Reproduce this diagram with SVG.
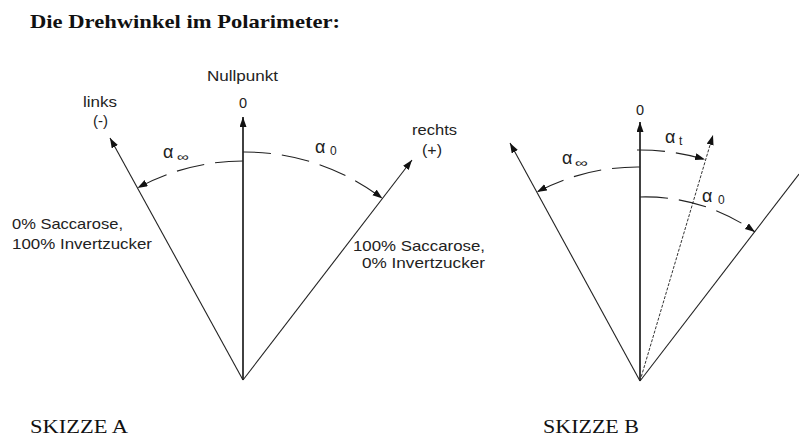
<svg xmlns="http://www.w3.org/2000/svg" width="799" height="436" viewBox="0 0 799 436">
<defs>
<marker id="ah" markerUnits="userSpaceOnUse" markerWidth="11" markerHeight="8" refX="10" refY="3.5" orient="auto">
<path d="M0,0 L10,3.5 L0,7 z" fill="#111"/>
</marker>
<style>
.ln{stroke:#222;stroke-width:1.1;fill:none}
.ax{stroke:#111;stroke-width:1.6;fill:none}
.arc{stroke:#222;stroke-width:1.1;fill:none;stroke-dasharray:28 11}
.dot{stroke:#333;stroke-width:1;fill:none;stroke-dasharray:3 1.5}
.t{font-family:"Liberation Sans",Arial,sans-serif;font-size:14.5px;fill:#222}
.g{font-family:"Liberation Sans",Arial,sans-serif;font-size:18px;fill:#222}
.s{font-family:"Liberation Sans",Arial,sans-serif;font-size:12px;fill:#222}
.sf{font-family:"Liberation Serif","Times New Roman",serif;fill:#111}
</style>
</defs>
<rect width="799" height="436" fill="#fff"/>
<text class="sf" x="30" y="28" font-size="19" font-weight="bold" textLength="310" lengthAdjust="spacingAndGlyphs">Die Drehwinkel im Polarimeter:</text>

<g id="connectors">
<!-- Skizze A -->
<path class="ax" d="M243,380 L243,117" marker-end="url(#ah)"/>
<path class="ln" d="M243,380 L110,138" marker-end="url(#ah)"/>
<path class="ln" d="M243,380 L412,160" marker-end="url(#ah)"/>
<path class="arc" d="M243,161 A219,219 0 0,0 137.5,188" marker-end="url(#ah)"/>
<path class="arc" d="M243,152 A228,228 0 0,1 382.5,198.5" marker-end="url(#ah)"/>
<!-- Skizze B -->
<path class="ax" d="M640,381 L640,122" marker-end="url(#ah)"/>
<path class="ln" d="M640,381 L510,143" marker-end="url(#ah)"/>
<path class="dot" d="M640,381 L713,135" marker-end="url(#ah)"/>
<path class="ln" d="M640,381 L799,174"/>
<path class="arc" d="M640,167 A214,214 0 0,0 537,192" marker-end="url(#ah)"/>
<path class="arc" d="M637,150 A231,231 0 0,1 705,159.5" marker-end="url(#ah)"/>
<path class="arc" d="M640,197 A188,188 0 0,1 755,232" marker-end="url(#ah)"/>
</g>

<g id="skizzeA">
<text class="t" x="207" y="81" textLength="71" lengthAdjust="spacingAndGlyphs">Nullpunkt</text>
<text class="t" x="243" y="108" text-anchor="middle">0</text>
<text class="t" x="83" y="107" textLength="34" lengthAdjust="spacingAndGlyphs">links</text>
<text class="t" x="93" y="126" textLength="15" lengthAdjust="spacingAndGlyphs">(-)</text>
<text class="t" x="412" y="135" textLength="45" lengthAdjust="spacingAndGlyphs">rechts</text>
<text class="t" x="422" y="155" textLength="20" lengthAdjust="spacingAndGlyphs">(+)</text>
<text class="t" x="12" y="229" textLength="111" lengthAdjust="spacingAndGlyphs">0% Saccarose,</text>
<text class="t" x="12" y="249" textLength="140" lengthAdjust="spacingAndGlyphs">100% Invertzucker</text>
<text class="t" x="353" y="251" textLength="132" lengthAdjust="spacingAndGlyphs">100% Saccarose,</text>
<text class="t" x="362" y="268" textLength="123" lengthAdjust="spacingAndGlyphs">0% Invertzucker</text>
<text class="g" x="163" y="158">α</text>
<text class="s" x="177" y="161" textLength="12" lengthAdjust="spacingAndGlyphs">∞</text>
<text class="g" x="315" y="153">α</text>
<text class="s" x="330" y="155">0</text>
<text class="sf" x="30" y="433" font-size="18" textLength="98" lengthAdjust="spacingAndGlyphs">SKIZZE A</text>
</g>

<g id="skizzeB">
<text class="t" x="640" y="115" text-anchor="middle">0</text>
<text class="g" x="562" y="164">α</text>
<text class="s" x="575" y="167" textLength="13" lengthAdjust="spacingAndGlyphs">∞</text>
<text class="g" x="665" y="143">α</text>
<text class="s" x="679" y="145">t</text>
<text class="g" x="702" y="202">α</text>
<text class="s" x="718" y="204">0</text>
<text class="sf" x="543" y="433" font-size="18" textLength="96" lengthAdjust="spacingAndGlyphs">SKIZZE B</text>
</g>
</svg>
